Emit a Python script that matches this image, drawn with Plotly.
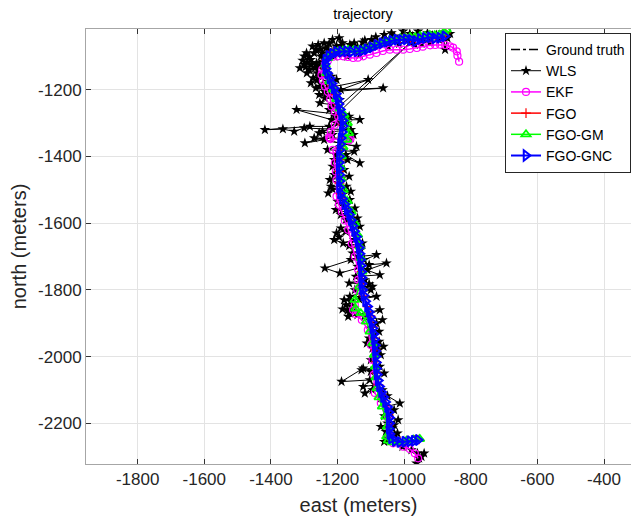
import plotly.graph_objects as go

# ---------------- data (east, north) in metres ----------------
ground_truth = [(-883, -1045), (-913, -1045), (-944, -1045), (-968, -1055), (-993, -1050), (-1023, -1050),
                (-1053, -1055), (-1083, -1065), (-1113, -1080), (-1143, -1085), (-1173, -1085), (-1203, -1085),
                (-1223, -1095), (-1238, -1115), (-1233, -1145), (-1218, -1180), (-1203, -1215), (-1198, -1240),
                (-1188, -1280), (-1183, -1310), (-1188, -1350), (-1193, -1400), (-1195, -1450), (-1193, -1510),
                (-1178, -1550), (-1163, -1590), (-1153, -1630), (-1138, -1670), (-1133, -1710), (-1128, -1750),
                (-1127, -1790), (-1118, -1830), (-1109, -1860), (-1103, -1880), (-1093, -1920), (-1088, -1960),
                (-1085, -2000), (-1083, -2040), (-1077, -2076), (-1070, -2106), (-1058, -2130), (-1045, -2160),
                (-1043, -2190), (-1045, -2220), (-1038, -2245), (-1013, -2255), (-983, -2253), (-958, -2250)]

wls = [(-862, -1032), (-870, -1045), (-877, -1080), (-884, -1028), (-895, -1050), (-903, -1036), (-915, -1038),
       (-922, -1058), (-930, -1030), (-942, -1047), (-948, -1062), (-958, -1025), (-968, -1065), (-975, -1040),
       (-983, -1032), (-990, -1052), (-1003, -1025), (-1010, -1045), (-1015, -1062), (-1030, -1040), (-1038, -1030),
       (-1048, -1070), (-1055, -1048), (-1060, -1035), (-1075, -1060), (-1085, -1042), (-1098, -1050), (-1105, -1068),
       (-1110, -1078), (-1118, -1052), (-1125, -1058), (-1133, -1095), (-1140, -1072), (-1150, -1060), (-1163, -1065),
       (-1170, -1100), (-1178, -1090), (-1185, -1060), (-1195, -1045), (-1190, -1068), (-1203, -1070), (-1215, -1050),
       (-1210, -1100), (-1218, -1095), (-1228, -1082), (-1225, -1062), (-1240, -1060), (-1235, -1075), (-1252, -1078),
       (-1245, -1090), (-1258, -1065), (-1275, -1070), (-1250, -1100), (-1265, -1080), (-1270, -1090), (-1293, -1090),
       (-1300, -1100), (-1285, -1102), (-1305, -1112), (-1280, -1110), (-1263, -1120), (-1245, -1115), (-1290, -1118),
       (-1278, -1125), (-1300, -1125), (-1313, -1135), (-1296, -1132), (-1255, -1130), (-1285, -1140), (-1268, -1135),
       (-1292, -1150), (-1260, -1150), (-1273, -1165), (-1262, -1172), (-1250, -1160), (-1280, -1180), (-1240, -1148),
       (-1230, -1175), (-1203, -1170), (-1218, -1160), (-1245, -1185), (-1253, -1190), (-1265, -1195), (-1232, -1195),
       (-1108, -1170), (-1190, -1200), (-1063, -1195), (-1208, -1205), (-1240, -1205), (-1225, -1215), (-1255, -1215),
       (-1193, -1230), (-1238, -1225), (-1253, -1240), (-1215, -1245), (-1200, -1255), (-983, -1060), (-1208, -1280),
       (-1225, -1260), (-1180, -1275), (-1323, -1260), (-1218, -1290), (-1133, -1290), (-1165, -1280), (-1172, -1300),
       (-1200, -1300), (-1225, -1310), (-1283, -1310), (-1418, -1320), (-1364, -1318), (-1330, -1325), (-1300, -1315),
       (-1160, -1320), (-1255, -1330), (-1245, -1325), (-1215, -1335), (-1298, -1360), (-1240, -1350), (-1143, -1370),
       (-1270, -1345), (-1160, -1345), (-1152, -1335), (-1185, -1360), (-1230, -1380), (-1150, -1385), (-1175, -1395),
       (-1133, -1420), (-1205, -1395), (-1210, -1410), (-1170, -1410), (-1215, -1430), (-1180, -1440), (-1210, -1455),
       (-1165, -1460), (-1223, -1470), (-1195, -1480), (-1173, -1490), (-1220, -1490), (-1228, -1510), (-1215, -1498),
       (-1160, -1505), (-1185, -1515), (-1163, -1530), (-1200, -1535), (-1180, -1550), (-1148, -1555), (-1205, -1560),
       (-1158, -1570), (-1190, -1575), (-1140, -1585), (-1175, -1590), (-1145, -1598), (-1133, -1610), (-1203, -1630),
       (-1190, -1615), (-1175, -1625), (-1195, -1642), (-1210, -1650), (-1183, -1660), (-1150, -1650), (-1125, -1660),
       (-1165, -1668), (-1130, -1680), (-1155, -1690), (-1138, -1700), (-1083, -1695), (-1120, -1710), (-1160, -1710),
       (-1238, -1735), (-1193, -1750), (-1105, -1725), (-1053, -1720), (-1110, -1740), (-1140, -1730), (-1073, -1755),
       (-1145, -1760), (-1118, -1770), (-1165, -1780), (-1105, -1782), (-1130, -1790), (-1095, -1790), (-1148, -1800),
       (-1100, -1800), (-1163, -1820), (-1083, -1820), (-1135, -1828), (-1180, -1830), (-1160, -1835), (-1175, -1845),
       (-1150, -1855), (-1185, -1858), (-1170, -1862), (-1158, -1850), (-1163, -1870), (-1168, -1880), (-1140, -1875),
       (-1073, -1860), (-1120, -1880), (-1065, -1890), (-1083, -1900), (-1100, -1915), (-1075, -1925), (-1090, -1935),
       (-1105, -1945), (-1075, -1955), (-1112, -1960), (-1062, -1970), (-1095, -1975), (-1078, -1980), (-1070, -1995),
       (-1088, -2005), (-1100, -2010), (-1073, -2030), (-1128, -2040), (-1100, -2045), (-1060, -2050), (-1123, -2035),
       (-1188, -2075), (-1103, -2070), (-1123, -2090), (-1085, -2085), (-1118, -2110), (-1095, -2100), (-1065, -2100),
       (-1070, -2125), (-1050, -2118), (-1013, -2140), (-1055, -2150), (-1030, -2160), (-1040, -2170), (-1060, -2178),
       (-1018, -2190), (-1050, -2200), (-1030, -2205), (-1070, -2210), (-1035, -2215), (-1055, -2225), (-1020, -2230),
       (-1028, -2235), (-1045, -2245), (-1060, -2255), (-1020, -2255), (-995, -2262), (-1005, -2270), (-978, -2280),
       (-960, -2290), (-948, -2300), (-963, -2320), (-955, -2305), (-940, -2290)]

ekf = [(-835, -1116), (-840, -1098), (-842, -1085), (-853, -1074), (-862, -1070), (-877, -1066), (-892, -1065),
       (-907, -1066), (-922, -1067), (-944, -1071), (-962, -1075), (-983, -1078), (-1003, -1080), (-1023, -1080),
       (-1043, -1080), (-1064, -1084), (-1083, -1090), (-1103, -1095), (-1123, -1100), (-1139, -1104), (-1153, -1105),
       (-1169, -1102), (-1183, -1100), (-1199, -1100), (-1213, -1101), (-1229, -1113), (-1238, -1125), (-1246, -1140),
       (-1248, -1155), (-1244, -1173), (-1238, -1190), (-1229, -1206), (-1222, -1228), (-1218, -1250), (-1208, -1266),
       (-1198, -1280), (-1208, -1305), (-1220, -1326), (-1223, -1345), (-1225, -1343), (-1221, -1348), (-1165, -1350),
       (-1161, -1347), (-1166, -1352), (-1214, -1380), (-1208, -1419), (-1205, -1445), (-1203, -1470), (-1203, -1520),
       (-1196, -1545), (-1187, -1566), (-1178, -1592), (-1168, -1620), (-1157, -1662), (-1148, -1700), (-1138, -1740),
       (-1138, -1770), (-1141, -1800), (-1148, -1845), (-1153, -1860), (-1145, -1872), (-1127, -1890), (-1109, -1920),
       (-1100, -1965), (-1095, -2010), (-1091, -2055), (-1088, -2109), (-1070, -2139), (-1053, -2160), (-1049, -2184),
       (-1048, -2210), (-1043, -2238), (-1033, -2260), (-1003, -2270), (-983, -2277), (-968, -2290), (-958, -2305)]

fgo = [(-875, -1030), (-890, -1040), (-905, -1041), (-921, -1040), (-936, -1043), (-951, -1042), (-966, -1047),
       (-981, -1046), (-996, -1045), (-1011, -1048), (-1026, -1047), (-1042, -1051), (-1057, -1055), (-1072, -1060),
       (-1087, -1064), (-1102, -1071), (-1117, -1077), (-1133, -1080), (-1149, -1082), (-1165, -1083), (-1181, -1083),
       (-1197, -1085), (-1213, -1088), (-1227, -1097), (-1236, -1112), (-1236, -1135), (-1228, -1160), (-1216, -1188),
       (-1205, -1215), (-1197, -1245), (-1190, -1275), (-1184, -1305), (-1185, -1340), (-1190, -1375), (-1193, -1410),
       (-1195, -1445), (-1194, -1480), (-1190, -1512), (-1179, -1540), (-1166, -1572), (-1155, -1605), (-1145, -1638),
       (-1136, -1672), (-1131, -1708), (-1128, -1745), (-1126, -1782), (-1120, -1818), (-1110, -1850), (-1101, -1878),
       (-1094, -1910), (-1089, -1945), (-1086, -1980), (-1084, -2015), (-1082, -2050), (-1077, -2085), (-1067, -2115),
       (-1055, -2145), (-1047, -2175), (-1045, -2205), (-1043, -2235), (-1034, -2250), (-1012, -2254), (-990, -2252),
       (-968, -2250), (-955, -2248)]

fgo_gm = [(-873, -1020), (-880, -1028), (-894, -1035), (-908, -1037), (-923, -1036), (-938, -1040), (-952, -1039),
          (-967, -1043), (-982, -1042), (-997, -1044), (-1012, -1046), (-1027, -1048), (-1043, -1052), (-1058, -1057),
          (-1073, -1062), (-1088, -1068), (-1104, -1074), (-1120, -1078), (-1136, -1081), (-1152, -1082), (-1168, -1081),
          (-1184, -1083), (-1200, -1086), (-1216, -1092), (-1229, -1105), (-1236, -1125), (-1233, -1150), (-1224, -1175),
          (-1213, -1200), (-1203, -1228), (-1193, -1256), (-1180, -1275), (-1170, -1300), (-1166, -1330), (-1172, -1350),
          (-1183, -1372), (-1188, -1400), (-1190, -1432), (-1189, -1466), (-1182, -1500), (-1170, -1534), (-1158, -1566),
          (-1148, -1600), (-1139, -1635), (-1133, -1670), (-1129, -1705), (-1126, -1745), (-1134, -1790), (-1148, -1830),
          (-1146, -1856), (-1130, -1870), (-1114, -1895), (-1103, -1925), (-1095, -1960), (-1090, -1995), (-1087, -2030),
          (-1085, -2062), (-1082, -2095), (-1076, -2122), (-1066, -2150), (-1056, -2180), (-1051, -2210), (-1053, -2240),
          (-1048, -2252), (-1036, -2257), (-1015, -2256), (-993, -2252), (-972, -2249), (-953, -2247)]

fgo_gnc = [(-878, -1040), (-893, -1044), (-908, -1046), (-922, -1043), (-937, -1045), (-952, -1048), (-966, -1054),
           (-980, -1051), (-994, -1049), (-1008, -1051), (-1022, -1050), (-1037, -1053), (-1052, -1056), (-1067, -1061),
           (-1082, -1066), (-1097, -1073), (-1112, -1079), (-1127, -1083), (-1142, -1085), (-1158, -1086), (-1173, -1085),
           (-1188, -1086), (-1203, -1087), (-1215, -1092), (-1226, -1099), (-1235, -1110), (-1238, -1123), (-1235, -1137),
           (-1230, -1151), (-1223, -1166), (-1217, -1181), (-1210, -1196), (-1204, -1212), (-1199, -1228), (-1196, -1243),
           (-1192, -1259), (-1188, -1275), (-1184, -1292), (-1183, -1309), (-1186, -1327), (-1189, -1345), (-1191, -1363),
           (-1193, -1381), (-1194, -1400), (-1195, -1418), (-1195, -1436), (-1194, -1455), (-1193, -1474), (-1194, -1493),
           (-1191, -1511), (-1185, -1527), (-1178, -1543), (-1171, -1559), (-1164, -1575), (-1159, -1591), (-1154, -1608),
           (-1149, -1624), (-1143, -1641), (-1138, -1657), (-1135, -1674), (-1133, -1692), (-1131, -1710), (-1129, -1728),
           (-1128, -1746), (-1127, -1764), (-1127, -1782), (-1125, -1800), (-1121, -1817), (-1116, -1834), (-1110, -1850),
           (-1105, -1866), (-1101, -1882), (-1097, -1898), (-1094, -1915), (-1091, -1932), (-1089, -1949), (-1087, -1966),
           (-1086, -1983), (-1085, -2000), (-1084, -2018), (-1083, -2036), (-1081, -2054), (-1078, -2072), (-1074, -2090),
           (-1068, -2106), (-1062, -2121), (-1056, -2136), (-1050, -2151), (-1046, -2167), (-1044, -2183), (-1044, -2200),
           (-1045, -2216), (-1043, -2232), (-1038, -2245), (-1027, -2253), (-1013, -2256), (-998, -2255), (-983, -2254),
           (-970, -2252), (-958, -2250)]

x_ticks = [-1800, -1600, -1400, -1200, -1000, -800, -600, -400]
y_ticks = [-2200, -2000, -1800, -1600, -1400, -1200]


def east(pts):
    return [p[0] for p in pts]


def north(pts):
    return [p[1] for p in pts]


FONT = "Liberation Sans, Arial"

# ---------------- figure ----------------
fig = go.Figure()
fig.add_trace(go.Scatter(x=east(ground_truth), y=north(ground_truth), mode="lines", name="Ground truth",
                         line=dict(color="black", width=1.5, dash="dashdot")))
fig.add_trace(go.Scatter(x=east(wls), y=north(wls), mode="lines+markers", name="WLS",
                         line=dict(color="black", width=1),
                         marker=dict(symbol="star", size=8, color="black")))
fig.add_trace(go.Scatter(x=east(ekf), y=north(ekf), mode="lines+markers", name="EKF",
                         line=dict(color="#ff00ff", width=1.5),
                         marker=dict(symbol="circle-open", size=7, color="#ff00ff", line=dict(width=1.2))))
fig.add_trace(go.Scatter(x=east(fgo), y=north(fgo), mode="lines+markers", name="FGO",
                         line=dict(color="#ff0000", width=1.5),
                         marker=dict(symbol="cross-thin-open", size=7, color="#ff0000",
                                     line=dict(width=1.2, color="#ff0000"))))
fig.add_trace(go.Scatter(x=east(fgo_gm), y=north(fgo_gm), mode="lines+markers", name="FGO-GM",
                         line=dict(color="#00ff00", width=1.5),
                         marker=dict(symbol="triangle-up-open", size=8, color="#00ff00", line=dict(width=1.8))))
fig.add_trace(go.Scatter(x=east(fgo_gnc), y=north(fgo_gnc), mode="lines+markers", name="FGO-GNC",
                         line=dict(color="#0000ff", width=2),
                         marker=dict(symbol="triangle-right-open", size=9, color="#0000ff", line=dict(width=2))))

axis_common = dict(
    showgrid=True, gridcolor="#e3e3e3", gridwidth=1,
    showline=True, linecolor="#a6a6a6", linewidth=1,
    ticks="inside", ticklen=5, tickcolor="#333333",
    tickfont=dict(family=FONT, size=17, color="#262626"),
    zeroline=False,
)

fig.update_xaxes(range=[-1955, -319], tickvals=x_ticks, ticktext=[str(v) for v in x_ticks], mirror="ticks",
                 title=dict(text="east (meters)", font=dict(family=FONT, size=20, color="#262626"), standoff=11),
                 **axis_common)
fig.update_yaxes(range=[-2322, -1018], tickvals=y_ticks, ticktext=[str(v) for v in y_ticks],
                 title=dict(text="north (meters)", font=dict(family=FONT, size=20, color="#262626"), standoff=6),
                 **axis_common)

fig.update_layout(
    width=631, height=516,
    margin=dict(l=86, r=0, t=29, b=52, autoexpand=False),
    plot_bgcolor="white", paper_bgcolor="white",
    title=dict(text="trajectory", x=363 / 631, xref="container", xanchor="center",
               y=1 - 14 / 516, yref="container", yanchor="middle",
               font=dict(family=FONT, size=14.5, color="black")),
    legend=dict(x=1.0, y=0.991, xanchor="right", yanchor="top",
                bgcolor="white", bordercolor="#262626", borderwidth=1,
                font=dict(family=FONT, size=14, color="black"),
                tracegroupgap=0),
    showlegend=True,
)

fig.write_html("out.html", config={"displayModeBar": False},
               post_script="document.body.style.margin='0px';")
